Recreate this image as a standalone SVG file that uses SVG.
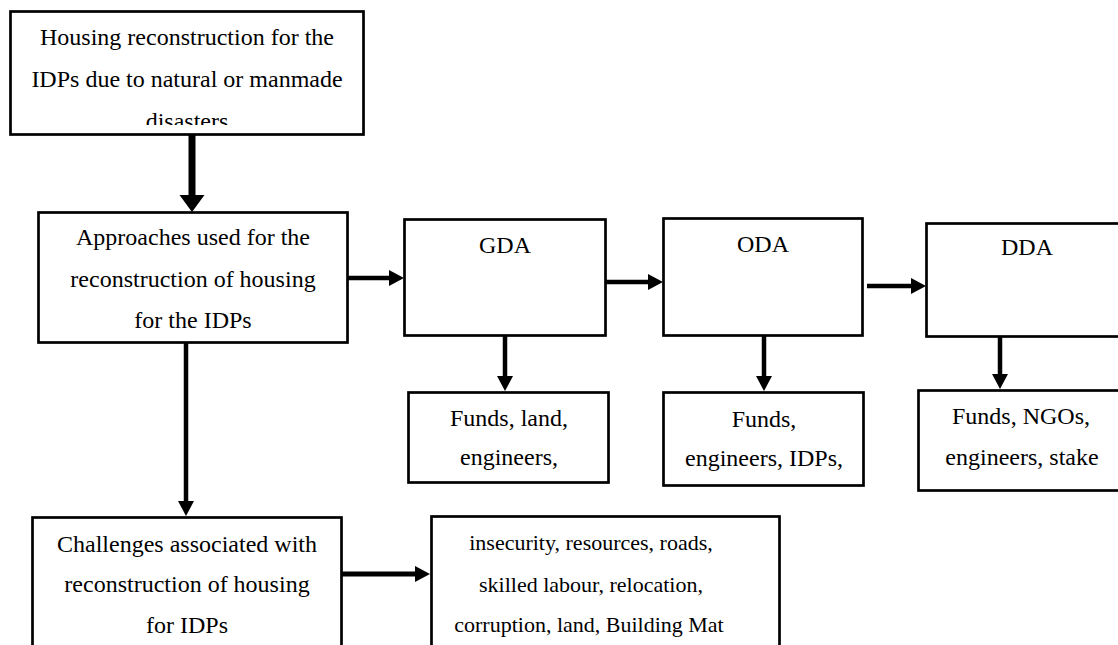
<svg xmlns="http://www.w3.org/2000/svg" width="1118" height="645" viewBox="0 0 1118 645">
  <style>
    .box { fill: #fff; stroke: #000; stroke-width: 2.7; }
    .lbl { font-family: "Liberation Serif", "Times New Roman", serif; font-size: 24px; fill: #000; text-anchor: middle; }
    .sm { font-size: 22px; }
    .wire { stroke: #000; fill: none; }
    .w7 { stroke-width: 7; }
    .w4 { stroke-width: 4.5; }
    .w5 { stroke-width: 5; }
  </style>
  <defs>
    <!-- heads start at the end of the shaft and point forward -->
    <marker id="headBig" markerUnits="userSpaceOnUse" markerWidth="18" markerHeight="26" refX="0" refY="12.5" orient="auto">
      <path d="M0,0 L17,12.5 L0,25 Z" fill="#000"/>
    </marker>
    <marker id="head" markerUnits="userSpaceOnUse" markerWidth="16" markerHeight="17" refX="0" refY="8" orient="auto">
      <path d="M0,0 L15,8 L0,16 Z" fill="#000"/>
    </marker>
    <clipPath id="clipTop">
      <rect x="12" y="12" width="350" height="113"/>
    </clipPath>
  </defs>
  <rect width="1118" height="645" fill="#fff"/>

  <!-- connectors -->
  <g id="connectors">
    <line class="wire w7" x1="192" y1="135" x2="192" y2="195" marker-end="url(#headBig)"/>
    <line class="wire w4" x1="348" y1="278" x2="389" y2="278" marker-end="url(#head)"/>
    <line class="wire w4" x1="606" y1="282" x2="648" y2="282" marker-end="url(#head)"/>
    <line class="wire w4" x1="867" y1="286" x2="911" y2="286" marker-end="url(#head)"/>
    <line class="wire w4" x1="505" y1="336" x2="505" y2="376" marker-end="url(#head)"/>
    <line class="wire w4" x1="764" y1="336" x2="764" y2="376" marker-end="url(#head)"/>
    <line class="wire w4" x1="1000" y1="337" x2="1000" y2="374" marker-end="url(#head)"/>
    <line class="wire w4" x1="186" y1="343" x2="186" y2="501" marker-end="url(#head)"/>
    <line class="wire w5" x1="342" y1="574" x2="415" y2="574" marker-end="url(#head)"/>
  </g>

  <g id="node-housing">
    <rect class="box" x="10.5" y="11.5" width="353" height="123"/>
    <g clip-path="url(#clipTop)">
      <text class="lbl" x="187" y="45">Housing reconstruction for the</text>
      <text class="lbl" x="187" y="87">IDPs due to natural or manmade</text>
      <text class="lbl" x="187" y="129">disasters</text>
    </g>
  </g>

  <g id="node-approaches">
    <rect class="box" x="38.5" y="212.5" width="309" height="130"/>
    <text class="lbl" x="193" y="245">Approaches used for the</text>
    <text class="lbl" x="193" y="287">reconstruction of housing</text>
    <text class="lbl" x="193" y="328">for the IDPs</text>
  </g>

  <g id="node-gda">
    <rect class="box" x="404.5" y="219.5" width="201" height="116"/>
    <text class="lbl" x="505" y="253">GDA</text>
  </g>

  <g id="node-oda">
    <rect class="box" x="663.5" y="218.5" width="199" height="117"/>
    <text class="lbl" x="763" y="252">ODA</text>
  </g>

  <g id="node-dda">
    <rect class="box" x="926.5" y="223.5" width="196" height="113"/>
    <text class="lbl" x="1027" y="255">DDA</text>
  </g>

  <g id="node-gda-resources">
    <rect class="box" x="408.5" y="392.5" width="200" height="90"/>
    <text class="lbl" x="509" y="426">Funds, land,</text>
    <text class="lbl" x="509" y="465">engineers,</text>
  </g>

  <g id="node-oda-resources">
    <rect class="box" x="663.5" y="392.5" width="200" height="93"/>
    <text class="lbl" x="764" y="427">Funds,</text>
    <text class="lbl" x="764" y="466">engineers, IDPs,</text>
  </g>

  <g id="node-dda-resources">
    <rect class="box" x="918.5" y="390.5" width="204" height="100"/>
    <text class="lbl" x="1021" y="424">Funds, NGOs,</text>
    <text class="lbl" x="1022" y="465">engineers, stake</text>
  </g>

  <g id="node-challenges">
    <rect class="box" x="32.5" y="517.5" width="309" height="140"/>
    <text class="lbl" x="187" y="552">Challenges associated with</text>
    <text class="lbl" x="187" y="592">reconstruction of housing</text>
    <text class="lbl" x="187" y="633">for IDPs</text>
  </g>

  <g id="node-challenge-list">
    <rect class="box" x="431.5" y="516.5" width="348" height="140"/>
    <text class="lbl sm" x="591" y="550">insecurity, resources, roads,</text>
    <text class="lbl sm" x="591" y="592">skilled labour, relocation,</text>
    <text class="lbl sm" x="589" y="632">corruption, land, Building Mat</text>
  </g>
</svg>
